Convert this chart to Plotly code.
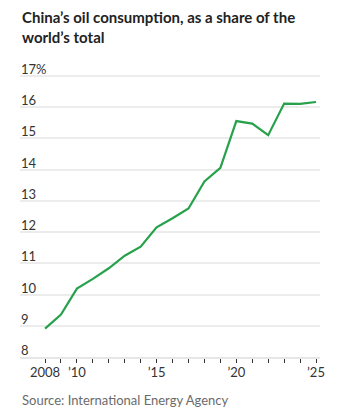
import plotly.graph_objects as go

years = list(range(2008, 2026))
share = [8.91, 9.36, 10.19, 10.50, 10.84, 11.24, 11.53, 12.15, 12.44, 12.75,
         13.62, 14.05, 15.55, 15.47, 15.10, 16.11, 16.10, 16.16]

y_tickvals = [8, 9, 10, 11, 12, 13, 14, 15, 16, 17]
y_ticktext = ["8", "9", "10", "11", "12", "13", "14", "15", "16", "17%"]
x_labels = {2008: "2008", 2010: "’10", 2015: "’15", 2020: "’20", 2025: "’25"}

title_text = "China’s oil consumption, as a share of the<br>world’s total"
source_text = "Source: International Energy Agency"

FONT = "Lato"
W, H = 341, 412
T, B = 57, 55.3


def py(pix):
    return (H - B - pix) / (H - T - B)


fig = go.Figure()
fig.add_trace(go.Scatter(
    x=years, y=share, mode="lines",
    line=dict(color="#27a14b", width=2.2),
    hoverinfo="skip", showlegend=False,
))

annotations = [
    dict(
        text="<b>" + title_text + "</b>", xref="paper", yref="paper",
        x=0, xanchor="left", y=py(6), yanchor="top", align="left",
        showarrow=False,
        font=dict(family=FONT, size=15, color="#222222"),
    ),
    dict(
        text=source_text, xref="paper", yref="paper",
        x=0, xanchor="left", y=py(400), yanchor="middle",
        showarrow=False,
        font=dict(family=FONT, size=13, color="#6b6b6b"),
    ),
]
for v, t in zip(y_tickvals, y_ticktext):
    annotations.append(dict(
        text=t, xref="paper", yref="y", x=0, y=v,
        xanchor="left", yanchor="bottom", xshift=-1, yshift=-3,
        showarrow=False,
        font=dict(family=FONT, size=13, color="#333333"),
    ))

fig.update_layout(
    width=W, height=H,
    margin=dict(l=20, r=21, t=T, b=B),
    paper_bgcolor="white", plot_bgcolor="white",
    font=dict(family=FONT, color="#333333", size=13),
    annotations=annotations,
)

fig.update_xaxes(
    range=[2006.43, 2025.25],
    tickvals=years,
    ticktext=[x_labels.get(y, "") for y in years],
    ticks="outside", ticklen=4, tickwidth=1, tickcolor="#333333",
    ticklabelstandoff=-2,
    showgrid=False, zeroline=False,
    showline=True, linecolor="#e6e6e6", linewidth=2,
    tickfont=dict(family=FONT, size=13, color="#333333"),
)

fig.update_yaxes(
    range=[8, 17.6],
    tickvals=y_tickvals, showticklabels=False,
    showgrid=True, gridcolor="#ececec", gridwidth=2,
    zeroline=False, showline=False, ticks="",
)

fig.write_html("out.html")
